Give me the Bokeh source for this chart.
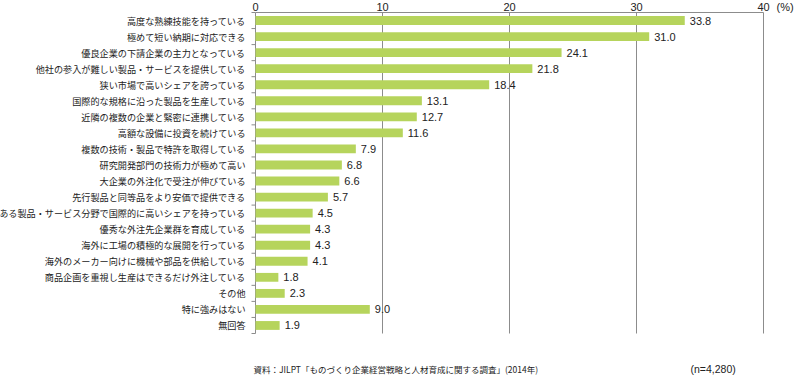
from bokeh.plotting import figure
from bokeh.models import Range1d
from bokeh.core.properties import value
from bokeh.embed import file_html
from bokeh.resources import INLINE

categories = [
    "高度な熟練技能を持っている",
    "極めて短い納期に対応できる",
    "優良企業の下請企業の主力となっている",
    "他社の参入が難しい製品・サービスを提供している",
    "狭い市場で高いシェアを誇っている",
    "国際的な規格に沿った製品を生産している",
    "近隣の複数の企業と緊密に連携している",
    "高額な設備に投資を続けている",
    "複数の技術・製品で特許を取得している",
    "研究開発部門の技術力が極めて高い",
    "大企業の外注化で受注が伸びている",
    "先行製品と同等品をより安価で提供できる",
    "ある製品・サービス分野で国際的に高いシェアを持っている",
    "優秀な外注先企業群を育成している",
    "海外に工場の積極的な展開を行っている",
    "海外のメーカー向けに機械や部品を供給している",
    "商品企画を重視し生産はできるだけ外注している",
    "その他",
    "特に強みはない",
    "無回答",
]
values = [33.8, 31.0, 24.1, 21.8, 18.4, 13.1, 12.7, 11.6, 7.9, 6.8,
          6.6, 5.7, 4.5, 4.3, 4.3, 4.1, 1.8, 2.3, 9.0, 1.9]
x_ticks = [0, 10, 20, 30, 40]
tick_labels = ["0", "10", "20", "30", "40"]
unit_label = "(%)"
source_note = "資料：JILPT「ものづくり企業経営戦略と人材育成に関する調査」(2014年)"
n_note = "(n=4,280)"

n = len(categories)
idx = list(range(n))
value_texts = [f"{v:.1f}" for v in values]

CJK = "Noto Sans CJK JP"
LAT = "Liberation Sans"
GRAY = "#8c8c8c"
TXT = "#222222"

# layout (pixels)
canvas_w, canvas_h = 795, 375
frame_left, frame_top = 255, 12
row_px = 16.05
px_per_unit = 12.7

x_min = -frame_left / px_per_unit
x_right = (canvas_w - frame_left) / px_per_unit
y_first = -0.5
y_last = n - 0.5
y_top = y_first - frame_top / row_px
y_bottom = y_first + (canvas_h - frame_top) / row_px
tick_label_y = y_first - 6 / row_px
unit_x = x_ticks[-1] + 1.7
note_y = y_first + (368 - frame_top) / row_px
n_note_x = (690 - frame_left) / px_per_unit
tick_len = 4 / px_per_unit

p = figure(width=canvas_w, height=canvas_h, output_backend="svg",
           toolbar_location=None,
           x_range=Range1d(x_min, x_right), y_range=Range1d(y_bottom, y_top),
           x_axis_location=None, y_axis_location=None,
           min_border=0)
p.title = None
p.outline_line_color = None
p.background_fill_color = "white"
p.xgrid.grid_line_color = None
p.ygrid.grid_line_color = None

# vertical grid lines at the tick values (bar area only)
grid_x = x_ticks[1:]
p.segment(x0=grid_x, x1=grid_x, y0=[y_first] * len(grid_x), y1=[y_last] * len(grid_x),
          line_color=GRAY, line_width=1)
# top axis line 0..40
p.segment(x0=[x_ticks[0]], x1=[x_ticks[-1]], y0=[y_first], y1=[y_first],
          line_color=GRAY, line_width=1)
# left axis line with ticks between categories
p.segment(x0=[0], x1=[0], y0=[y_first], y1=[y_last], line_color=GRAY, line_width=1)
bounds = [i - 0.5 for i in range(n + 1)]
p.segment(x0=[0] * len(bounds), x1=[-tick_len] * len(bounds), y0=bounds, y1=bounds,
          line_color=GRAY, line_width=1)

# bars
p.hbar(y=idx, right=values, left=0, height=0.55, fill_color="#b6d45c",
       line_color=None)

# value labels
p.text(x=values, y=idx, text=value_texts, x_offset=5,
       text_baseline="middle", text_align="left",
       text_font=value(LAT), text_font_size="11px", text_color=TXT)

# category labels
p.text(x=[0] * n, y=idx, text=categories, x_offset=-10,
       text_baseline="middle", text_align="right",
       text_font=value(CJK), text_font_size="9.15px", text_color=TXT)

# top tick labels and unit
p.text(x=x_ticks, y=[tick_label_y] * len(x_ticks), text=tick_labels,
       text_baseline="middle", text_align="center",
       text_font=value(LAT), text_font_size="11px", text_color=TXT)
p.text(x=[unit_x], y=[tick_label_y], text=[unit_label],
       text_baseline="middle", text_align="center",
       text_font=value(LAT), text_font_size="11px", text_color=TXT)

# notes
p.text(x=[0], y=[note_y], text=[source_note],
       text_baseline="middle", text_align="left", x_offset=-2,
       text_font=value(CJK), text_font_size="8.5px", text_color=TXT)
p.text(x=[n_note_x], y=[note_y], text=[n_note],
       text_baseline="middle", text_align="left",
       text_font=value(LAT), text_font_size="10.5px", text_color=TXT)

open("out.html", "w").write(file_html(p, INLINE))
